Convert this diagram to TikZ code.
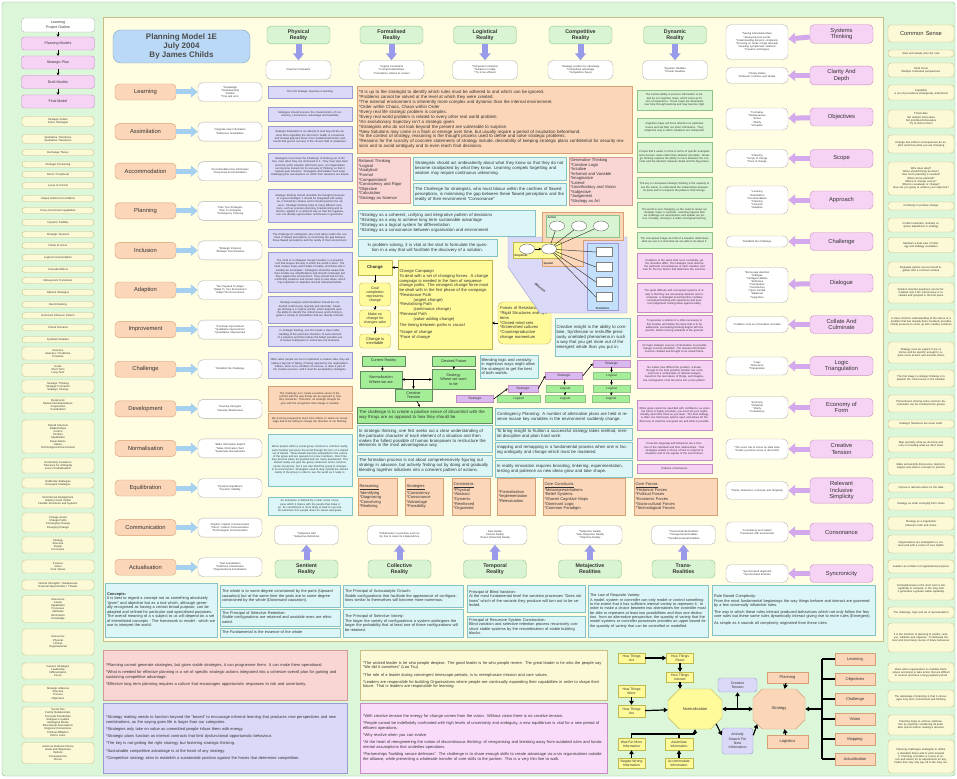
\documentclass[tikz,border=0pt]{standalone}
\usepackage{fontspec}
\setmainfont{Liberation Sans}
\usetikzlibrary{arrows.meta,positioning,shapes.misc,shapes.geometric}

\definecolor{bggreen}{HTML}{DCF6DA}
\definecolor{bgyellow}{HTML}{FFFDE2}
\definecolor{paleyel}{HTML}{FCFAD6}
\definecolor{paleline}{HTML}{C8BE86}
\definecolor{orangefill}{HTML}{FBD6B8}
\definecolor{orangeline}{HTML}{D8A075}
\definecolor{pinkfill}{HTML}{F6D2F4}
\definecolor{pinkline}{HTML}{C58BC5}
\definecolor{greenfill}{HTML}{D9F4D2}
\definecolor{greenline}{HTML}{8CC48A}
\definecolor{lavfill}{HTML}{DADAF8}
\definecolor{lavline}{HTML}{9A9AD4}
\definecolor{cyanfill}{HTML}{DCF6F8}
\definecolor{cyanline}{HTML}{86C2C8}
\definecolor{rosefill}{HTML}{F9D5D3}
\definecolor{roseline}{HTML}{D59A98}
\definecolor{yelfill}{HTML}{FFFA9A}
\definecolor{yelline}{HTML}{C2B850}
\definecolor{brightgreen}{HTML}{A4EE98}
\definecolor{purplefill}{HTML}{D9BAF0}
\definecolor{titlefill}{HTML}{BAD9F6}
\definecolor{titleline}{HTML}{7CA4CA}
\definecolor{arrowblue}{HTML}{A6D0F0}
\definecolor{arrowlav}{HTML}{9A9AEA}
\definecolor{arrowpink}{HTML}{D3A8EC}
\definecolor{magfill}{HTML}{FADCFA}
\definecolor{predfill}{HTML}{C2E0FB}
\definecolor{inktext}{HTML}{333333}

\newcommand\bul{*}

\tikzset{
  every node/.append style={text=inktext},
  flowbox/.style={draw=pinkline, fill=pinkfill, rounded corners=3pt, minimum width=73pt, minimum height=13pt, align=center, inner sep=0.5pt, font=\fontsize{3.6}{4.2}\selectfont},
  listbox/.style={draw=paleline, fill=paleyel, rounded corners=3pt, minimum width=72pt, text width=69pt, align=center, inner sep=0.6pt, font=\fontsize{2.7}{3.2}\selectfont},
  actbox/.style={draw=orangeline, fill=orangefill, rounded corners=4pt, minimum width=61pt, minimum height=16pt, font=\fontsize{5.8}{6.6}\selectfont},
  qualbox/.style={draw=pinkline, fill=pinkfill, rounded corners=4pt, minimum width=63pt, minimum height=18pt, align=center, font=\fontsize{5.8}{6.6}\selectfont},
  realbox/.style={draw=greenline, fill=greenfill, rounded corners=4pt, minimum width=63pt, minimum height=17pt, align=center, font=\fontsize{5.3}{6.1}\selectfont\bfseries},
  descbox/.style={draw=black!30, fill=white, rounded corners=5pt, minimum width=64pt, minimum height=19pt, text width=60pt, align=center, inner sep=1pt, font=\fontsize{2.6}{3.1}\selectfont},
  notebox/.style={draw, inner sep=1.5pt, align=left, font=\fontsize{2.7}{3.2}\selectfont},
  lavnote/.style={notebox, draw=lavline, fill=lavfill, minimum width=84pt, text width=80pt, align=center},
  orgnote/.style={notebox, draw=orangeline, fill=orangefill, minimum width=84pt, text width=80pt, align=center},
  cyannote/.style={notebox, draw=cyanline, fill=cyanfill, minimum width=84pt, text width=80pt, align=center},
  grnnote/.style={notebox, draw=greenline, fill=greenfill, minimum width=75pt, text width=71pt, align=center},
  pnknote/.style={notebox, draw=pinkline, fill=pinkfill, minimum width=75pt, text width=71pt, align=center},
  textnote/.style={notebox, font=\fontsize{4.3}{4.9}\selectfont},
  basenote/.style={notebox, draw=cyanline, fill=cyanfill, font=\fontsize{3.9}{4.5}\selectfont},
  panel/.style={notebox, font=\fontsize{4}{4.7}\selectfont, inner sep=3pt},
  chgbox/.style={draw=yelline, fill=yelfill, rounded corners=3pt, minimum width=31pt, align=center, inner sep=0.5pt, font=\fontsize{3.6}{4.2}\selectfont},
  gflow/.style={draw=greenline!70!black, fill=brightgreen, minimum width=43pt, align=center, inner sep=0.5pt, font=\fontsize{3.8}{4.3}\selectfont},
  stratbox/.style={draw=pinkline, fill=purplefill, minimum width=37pt, minimum height=7pt, inner sep=0pt, font=\fontsize{3.3}{3.6}\selectfont},
  logbox/.style={draw=greenline, fill=brightgreen, minimum width=37pt, minimum height=7pt, inner sep=0pt, font=\fontsize{3.3}{3.6}\selectfont},
  hbox/.style={draw=yelline, fill=yelfill, minimum width=27pt, align=center, inner sep=0.5pt, font=\fontsize{3.4}{3.9}\selectfont},
  pchbox/.style={draw=orangeline, fill=orangefill, minimum width=41pt, minimum height=12pt, font=\fontsize{4}{4.6}\selectfont},
  octbox/.style={chamfered rectangle, chamfered rectangle xsep=10pt, chamfered rectangle ysep=10pt, minimum width=54pt, minimum height=40pt, inner sep=0pt, font=\fontsize{4}{4.6}\selectfont},
  blockarr/.style={line width=5pt, draw=#1, -{Triangle[width=11pt,length=7pt]}},
  flowarr/.style={line width=1.2pt, -{Triangle[width=4.5pt,length=4pt]}},
  flowline/.style={line width=1.2pt},
  thinarr/.style={line width=0.6pt, -{Stealth[width=2.6pt,length=2.6pt]}},
}

\begin{document}
\begin{tikzpicture}[x=1pt,y=-1pt]
\useasboundingbox (0,0) rectangle (957,778);
\fill[white] (0,0) rectangle (957,778);
\draw[greenline, fill=bggreen, rounded corners=3pt] (2,2) rectangle (955,776);
\draw[paleline, fill=bgyellow] (103,17) rectangle (883,641);

% outline of the model
\node[flowbox, draw=black!30, fill=white, minimum height=14pt] (outline) at (58,25) {Learning\\Project Outline};
\node[flowbox] (plmodels) at (58,43.5) {Planning Models};
\node[flowbox] (stplan) at (58,62.5) {Strategic Plan};
\node[flowbox] (drmodels) at (58,82) {Draft Models};
\node[flowbox] (fnmodel) at (58,101.5) {Final Model};
\draw[thinarr, line width=1pt] (outline) -- (plmodels);
\draw[thinarr, line width=1pt] (plmodels) -- (stplan);
\draw[thinarr, line width=1pt] (stplan) -- (drmodels);
\draw[thinarr, line width=1pt] (drmodels) -- (fnmodel);

% left list
\foreach \y/\h/\txt [count=\k] in {
  121.5/10/{Strategic Assets\\Active Strategies},
  139/9/{Qualitative Transitions\\Qualitative Transitions},
  152.5/6/{Exchange Theory},
  164.5/6/{Strategic Positioning},
  174.5/6/{Direct / Peripheral},
  185.5/6/{Locus of Control},
  198.5/6/{Unique Historical Conditions},
  210.5/6/{Cross Functional Capabilities},
  222.5/6/{Dynamic Stability},
  234.5/6/{Strategic Tensions},
  245.5/6/{Fields of Vision},
  257.5/6/{Logical Incrementalism},
  269.5/6/{Cascade Effects},
  280.5/6/{Metasystem Transitions},
  292.5/6/{Optimal Strategies},
  304.5/6/{Benchmarking},
  315.5/6/{Dominant Influence Pattern},
  327.5/6/{Critical Domains},
  339.5/6/{Symbolic Realities},
  353.5/13/{Reactive\\Reactive / Predictive\\Proactive},
  370/13/{Goals\\Short Term\\Long Term},
  386.5/13/{Strategic Thinking\\Strategic Formation\\Strategic Change},
  405/16/{Reciprocity\\Mutual Interdependence\\Cooperation\\Coordination},
  436.5/33/{Overall Structure\\Relationships\\Control\\Position\\Capabilities\\Expectations\\Values\\Technological Environments},
  465.5/15/{Uncertainty Avoidance\\Tolerance for Ambiguity\\Level of Individualism},
  483/10/{Deliberate Strategies\\Emergent Strategies},
  500.5/15/{Red Interval Realignment\\Industry Good Visible\\Flexible Structures and Systems},
  522.5/19/{Change Arena\\Change Paths\\Converging Change\\Diverging Change},
  545/16/{Strategy\\Structure\\People\\Processes},
  566.5/13/{Purpose\\Vision\\Core Values},
  585/10/{Internal Strengths / Weaknesses\\External Opportunities / Threats},
  609/27/{Resources\\Assets\\Capabilities\\Processes\\Attributes\\Information\\Knowledge},
  642/26/{Resources\\Physical\\Human\\Organisational},
  671/16/{Generic Strategies\\Leadership\\Differentiation\\Focus},
  693.5/17/{Strategic Alliances\\Structure\\Process\\Objectives},
  722.5/31/{Social Ties\\Family Relationships\\Personal Friendships\\Religious Loyalties\\Ideological Bonds\\Educational Associations\\Regional Connections\\Political Affiliation\\Ethnic Links},
  753/21/{Action as Rational Choice\\Goals and Objectives\\Options\\Consequences\\Choice}}
  {\node[listbox, minimum height=\h pt] (lst\k) at (58,\y) {\txt};}

% title
\node[draw=titleline, fill=titlefill, rounded corners=8pt, minimum width=137pt, minimum height=33pt, align=center, font=\fontsize{8}{9.2}\selectfont\bfseries, text=black!70] (title) at (181.5,46.5) {Planning Model 1E\\July 2004\\By James Childs};

% stages of the model
\foreach \lab/\desc [count=\i from 0] in {
  Learning/{\bul Knowledge\\\bul Understanding\\\bul Intuition\\\bul Trial and error},
  Assimilation/{\bul Integrate New Information\\\bul Reference Assimilation},
  Accommodation/{\bul Accommodate New Information\\\bul Keep Data Accommodation},
  Planning/{\bul Plan Your Strategies\\\bul Plan To Anticipate\\\bul Contingency Planning},
  Inclusion/{\bul Strategic Inclusion\\\bul Strategic Discrimination},
  Adaption/{\bul Be Prepared To Adapt\\\bul Adapt To Your Environment\\\bul Adapt The Environment},
  Improvement/{\bul Continual Improvement\\\bul Qualitative Improvement\\\bul Quantitative Improvement},
  Challenge/{\bul Establish the Challenge},
  Development/{\bul Develop Strengths\\\bul Develop Weaknesses},
  Normalisation/{\bul Make Information Explicit\\\bul Make Information Tacit\\\bul Systematic Normalisation},
  Equilibration/{\bul Dynamic Equilibrium\\\bul Dynamic Stability},
  Communication/{\bul Explicit / Implicit Communication\\\bul Direct / Indirect Communication\\\bul Technological Communication},
  Actualisation/{\bul Self Actualisation\\\bul Fulfilment Actualisation\\\bul Organisational Actualisation}}
{
  \node[actbox] (stage\i) at (145.5,{92+39.6*\i}) {\lab};
  \node[descbox] (staged\i) at (230,{92+39.6*\i}) {\desc};
  \draw[blockarr=arrowblue] (stage\i) -- (staged\i);
}

% evaluation notes
\foreach \y/\h/\st/\txt [count=\k] in {
  92/12/lavnote/{The first strategic objective is learning},
  114/14/lavnote/{Strategies should possess the characteristics of consistency, consonance, advantage and feasibility},
  137/22/lavnote/{Strategic Evaluation is an attempt to look beyond the obvious facts regarding the short term health of a business and instead appraise those more fundamental factors and trends that govern success in the chosen field of endeavour.},
  167/28/lavnote/{Strategists must meet the Challenge of thinking out of the box, even when they are immersed in it. They must step back and look at the situation with fresh eyes. An Organisation can become locked into its own way of thinking, so that it repeats past solutions. Strategists and leaders must keep challenging the assumptions on which their decisions are based.},
  205.5/33/lavnote/{Strategic thinking should resemble the thought processes of a good strategist; it should be integrated with analysis, it should be creative and it should question the obvious. Strategic thinking looks at many different solutions, such as scenario planning, brainstorming and reflection, applied in a coherent way so that the organisation can identify opportunities and threats in good time.},
  238/18/lavnote/{The challenge for strategists, who must labour within the confines of flawed perceptions, is minimising the gap between these flawed perceptions and the reality of their environment.},
  272/40/lavnote/{The mind of a strategist, though invisible, is a powerful tool that shapes the way in which the world is seen. The mind creates maps and models of reality, and these will inevitably be incomplete. Strategists should be aware that their models are simplifications and should continually test them against the environment. They should look for disconfirming evidence and remain open to new ideas, which may lead them to abandon old and cherished beliefs.},
  309.5/27/lavnote/{Strategic analysis and formulation should be conducted continuously, logically and rationally. Strategic thinking is a "logical activity" which depends upon the ability to identify the critical issues and to bring together a variety of possibilities that are directly relevant.},
  336/20/lavnote/{In strategic thinking, one first seeks a clear understanding of the particular character of each element of a situation and then makes the fullest possible use of human brainpower to restructure the elements.},
  365/26/lavnote/{Often when people set out to implement a creative idea, they are taking a big risk of failing, of being rejected by the organisation. Failure, while not a condition of success, is often a part of the creative process, and it must be accepted by strategists.},
  398.5/25/orgnote/{The challenge is to create a positive sense of discomfort with the way things are as opposed to how they should be. Therefore, all strategic thought begins with the recognition that change is needed.},
  420.5/15/orgnote/{We must be prepared to learn from others, to share our knowledge and to be willing to change the direction of our thinking.},
  460/52/cyannote/{When people within a social group construct a common reality, each member perceives the world through the lens of a shared set of beliefs. These beliefs become embedded in the culture of the group and are passed on to new members. Over time they become taken for granted and are rarely questioned. This shared reality can give the group coherence and a common sense of purpose, but it can also blind the group to changes in its environment. Strategists need to step outside the shared reality of the group in order to see the world as it really is.},
  506/18/cyannote/{An enterprise is defined by a clear sense of purpose which it shares with the people that make it up. Its commitment is more likely to lead to successful outcomes if its people share its values and goals.}}
  {\node[\st, minimum height=\h pt] (eval\k) at (310,\y) {\txt};}

% realities
\foreach \lab/\x/\desc [count=\i] in {
  Physical/298.5/{Physical Constraints},
  Formalised/391.5/{\bul Logical Constraints\\\bul Formal Relationships\\\bul Formalisms relative to context},
  Logistical/485/{\bul Temporal Constraints\\\bul Relative to reality\\\bul Try to be efficient},
  Competitive/580.5/{\bul Strategic position for advantage\\\bul Competitive advantage\\\bul Competition theory},
  Dynamic/675/{\bul Dynamic Realities\\\bul Chaotic Realities}}
{
  \node[realbox] (top\i) at (\x,35) {\lab\\Reality};
  \node[descbox, minimum width=65pt] (topd\i) at (\x,70) {\desc};
  \draw[blockarr=arrowlav, line width=6pt] (top\i) -- (topd\i);
}
\foreach \lab/\x/\desc [count=\i] in {
  {Sentient\\Reality}/306.5/{\bul Subjective Self\\\bul Subjective Definitions},
  {Collective\\Reality}/399.5/{\bul Collaboration is practical, each entity free to retain its independence},
  {Temporal\\Reality}/495/{Past Reality\\Present Reality\\\bul Future (Potential) Reality},
  {Metajective\\Realities}/590/{\bul Subjective Reality\\\bul Inter-Subjective Reality\\\bul Objective Reality},
  {Trans-\\Realities}/683.5/{\bul Transcendental Realities\\\bul Transpersonal Realities\\\bul Transdimensional Realities}}
{
  \node[realbox, minimum height=18pt] (bot\i) at (\x,569) {\lab};
  \node[descbox] (botd\i) at (\x,535) {\desc};
  \draw[blockarr=arrowlav, line width=6pt] (bot\i) -- (botd\i);
}

% qualities
\foreach \lab/\h/\dy/\desc [count=\i from 0] in {
  {Systems\\Thinking}/35/8/{\bul Seeing interrelationships\\\bul Seeing beyond events\\\bul Understanding dynamic complexity\\\bul Focusing on areas of high leverage\\\bul Avoiding symptomatic solutions\\\bul Dynamic archetypes},
  {Clarity And\\Depth}/16/0/{\bul Clearly Define\\\bul Relevant, Inclusive and simple},
  {Objectives}/22/2/{\bul Formative\\\bul Metaproactive\\\bul Active\\\bul Clarify\\\bul Actualize},
  {Scope}/18/0/{\bul Planning\\\bul Scope of change\\\bul Pace of change},
  {Approach}/28/0/{\bul Learning\\\bul Assimilation\\\bul Accommodation\\\bul Planning\\\bul Inclusion\\\bul Adaption},
  {Challenge}/11/0/{\bul Establish the Challenge},
  {Dialogue}/35/2/{\bul Encourage attention\\\bul Dialogue\\\bul Intelligent debate\\\bul Reflective\\\bul Participative\\\bul Constructive\\\bul Open minded\\\bul Balanced\\\bul Supportive},
  {Collate And\\Culminate}/16/0/{\bul Collation of all our information and data},
  {Logic\\Triangulation}/18/0/{\bul Logic\\\bul Relevance\\\bul Triangulation},
  {Economy of\\Form}/22/0/{\bul Economy\\\bul Simplicity\\\bul Clarity\\\bul Consistency},
  {Creative\\Tension}/20/0/{\bul The vision has to stress an ideal state\\\bul Create a positive sense of discomfort},
  {Relevant\\Inclusive\\Simplicity}/18/0/{\bul Clarity, Relevance, Inclusivity and Simplicity},
  {Consonance}/20/0/{\bul Consistency and realism\\\bul Consonant with environment},
  {Syncronicity}/18/0/{\bul Synchronised alignment\\\bul Synchronised direction}}
{
  \node[qualbox] (qual\i) at (841.5,{34+41.5*\i}) {\lab};
  \node[descbox, minimum width=62pt, minimum height=\h pt] (quald\i) at (757,{34+41.5*\i+\dy}) {\desc};
  \draw[blockarr=arrowpink] (qual\i) -- (quald\i);
}

% common sense
\node[listbox, minimum width=66pt, text width=62pt, minimum height=17pt, font=\fontsize{5.8}{6.6}\selectfont] (csense) at (921,33.5) {Common Sense};
\foreach \y/\h/\txt [count=\k] in {
  53.5/7/{Slow and steady wins the race},
  70/14/{Multi Focal\\Multiple contextual perspectives},
  92.5/15/{Capability\\A set of procedures strategically understood},
  119/18/{Timescales\\Set realistic timescales\\Set prioritised timescales\\Try to stick to them},
  144/18/{Change has indirect consequences be explicit and know what you are changing},
  178.5/33/{Who does what?\\When should things be done?\\How much planning is needed?\\What can be planned?\\Where to change course?\\What to reevaluate or change?\\How are you going to achieve your objective?},
  206/8/{Continuity in positive change},
  225/14/{Conflict resolution normally requires adjustment in strategy},
  245/15/{Maintain a dual view of strategy and strategy evaluation},
  269.5/15/{Disparate parties can be bound together with a common venture},
  293/20/{Solution oriented questions can be formulated only if the critical issue is localised and grouped in the first place},
  321.5/23/{A clear common understanding of the nature of a problem that has already been localised, provides critical pressure to come up with creative solutions},
  352.5/21/{Strategy must be explicit to be effective and be specific enough to require some actions and exclude others},
  378.5/17/{The first stage in strategic thinking is to pinpoint the critical issue in the situation},
  403.5/17/{Phenomenon sharing some common denominator can be combined into groups},
  424/8/{Strategic Situations are never static},
  444.5/15/{Map precisely what we do know and carry on treating what we don't know},
  466.5/17/{Make and amplify discoveries, build prototypes and reduce concepts to practice},
  487.5/9/{Impose a rational outline on the data},
  504/12/{Strategy as order emerging from chaos},
  523.5/13/{Strategy as a negotiation between order and chaos},
  544/18/{Organisations are entangled in a cultural web with a center of core beliefs},
  566.5/13/{Leaders as architect of organisational purpose},
  589/22/{Competitiveness in the short term is the capability to compete, in the long term it generates a greater viable capability},
  612.5/11/{The challenge, logic and art of representation},
  637.5/29/{It is the intention of planning to predict, analyse, calibrate and organise. To delineate the best and most likely course of future behaviour},
  672.5/19/{Plans allow organisations to mobilise themselves and plans to take action that are difficult to reverse and have a long payback period},
  698.5/17/{The advantage of planning is that it encourages long term commitment and thinking},
  725/20/{Planning helps to achieve optimisation by explicitly considering all available options before making a decision},
  756.5/33/{Planning challenges strategists to define a desirable future and to work towards it. Planning considers a course of action and allows for its adjustments for any trades that may only pay off in the long run.}}
  {\node[listbox, minimum width=66pt, text width=62pt, minimum height=\h pt] (cs\k) at (921,\y) {\txt};}

% perception notes
\foreach \y/\h/\st/\txt [count=\k] in {
  100/20/grnnote/{The human ability to process information is limited by our cognitive maps, which serve as filters of experience. These maps are developed over time through learning and may become rigid.},
  127.5/19/grnnote/{Cognitive maps will focus attention on particular issues and will filter out other information. They shape the way in which situations are interpreted.},
  157/30/grnnote/{People find it easier to think in terms of specific examples and concrete cases rather than abstract principles. Strategic thinking requires the ability to move between the concrete and the abstract, between detail and the big picture.},
  187.5/21/grnnote/{The key to conceptual strategic thinking is the capacity to see the whole, to understand the relationships between its parts and to recognise the patterns that emerge.},
  214.5/25/grnnote/{The world is ever changing, so the need to renew our strategic maps is constant. Learning requires that we challenge our assumptions and update our picture of reality, moving to a wider conceptual framing.},
  240/16/grnnote/{The conceptual image we hold of a situation determines what we see in it and what we are able to do about it.},
  265.5/25/pnknote/{Problems of the same kind recur constantly, yet the remedies differ. The strategist must observe the particular circumstances of each situation and look for the key factors that determine the outcome.},
  297.5/29/pnknote/{The great difficulty with conceptual systems of reality is that they are necessarily abstract and incomplete. A strategist must therefore combine conceptual thinking with experience and practical judgement, testing ideas against reality.},
  326/22/pnknote/{To generate a solution it is often necessary to first localise and define the issue that is to be addressed. Generating thinking begins with the specific, before moving outwards to the general.},
  348.5/17/pnknote/{All major strategic sources of information on possible change must be identified. The relevant information must be collated and brought to an actual frame.},
  374/28/pnknote/{No matter how difficult the problem, a breakthrough to the best possible solution can come only from a combination of rational analysis, based on the real nature of things, and imaginative reintegration of all the items into a new pattern.},
  415/30/pnknote/{When goals cannot be specified with confidence, as when the future is highly uncertain, you must set your sights broadly and refine them as you learn. The best strategy is often one that keeps options open and allows for the discovery of what the real goals are and what is possible.},
  449/22/pnknote/{Proactive language and behaviour are a function of the individual and their relationships. Their strategies enable a choice of how to respond to situations and to the signals of the environment.},
  468.5/9/pnknote/{Patterns of behaviour}}
  {\node[\st, minimum height=\h pt] (perc\k) at (674.5,\y) {\txt};}

% middle column
\node[textnote, draw=orangeline, fill=orangefill, minimum width=275pt, minimum height=67pt, text width=271pt, font=\fontsize{4.4}{4.95}\selectfont] (rules) at (494.5,119.5) {\bul It is up to the strategist to identify which rules must be adhered to and which can be ignored.\\\bul Problems cannot be solved at the level at which they were created.\\\bul The external environment is inherently more complex and dynamic than the internal environment.\\\bul Order within Chaos, Chaos within Order\\\bul Every real life strategic problem is complex.\\\bul Every real world problem is related to every other real world problem.\\\bul An evolutionary trajectory isn't a strategic given.\\\bul Strategists who do not look beyond the present are vulnerable to surprise.\\\bul New Solutions may come in a flash or emerge over time, but usually require a period of incubation beforehand.\\\bul In the context of strategy, reasoning is the thought process used to define and solve strategic problems.\\\bul Reasons for the scarcity of concrete statements of strategy include, desirability of keeping strategic plans confidential for security reasons and to avoid ambiguity and to even reach final decisions.};
\node[textnote, draw=roseline, fill=rosefill, minimum width=53pt, minimum height=46pt, text width=50pt, font=\fontsize{4.1}{4.55}\selectfont] (rational) at (383.5,180) {Rational Thinking\\\bul Logical\\\bul Analytical\\\bul Formal\\\bul Computational\\\bul Consistency and Rigor\\\bul Objective\\\bul Calculation\\\bul Strategy as Science};
\node[textnote, draw=cyanline, fill=cyanfill, minimum width=153pt, minimum height=23pt, text width=149pt] (ambival) at (489.5,168.5) {Strategists should act ambivalently about what they know so that they do not become straitjacked by what they know. Learning compels forgetting and wisdom may require continuous unlearning.};
\node[textnote, draw=cyanline, fill=cyanfill, minimum width=153pt, minimum height=22pt, text width=149pt] (flawed) at (489.5,194) {The Challenge for strategists, who must labour within the confines of flawed perceptions, is minimising the gap between these flawed perceptions and the reality of their environment "Consonance"};
\node[textnote, draw=roseline, fill=rosefill, minimum width=63pt, minimum height=48pt, text width=60pt, font=\fontsize{4.1}{4.55}\selectfont] (generative) at (600.5,181) {Generative Thinking\\\bul Creative Logic\\\bul Intuitive\\\bul Informal and Variable\\\bul Imaginative\\\bul Lateral\\\bul Unorthodoxy and Vision\\\bul Subjective\\\bul Judgement\\\bul Strategy as Art};
\node[textnote, draw=cyanline, fill=cyanfill, minimum width=177pt, minimum height=26pt, text width=173pt] (stratas) at (446.5,223) {\bul Strategy as a coherent, unifying and integrative pattern of decisions\\\bul Strategy as a way to achieve long term sustainable advantage\\\bul Strategy as a logical system for differentiation\\\bul Strategy as a consonance between organisation and environment};
\node[textnote, draw=cyanline, fill=cyanfill, minimum width=139pt, minimum height=17pt, text width=135pt, align=center] (probsolve) at (427.5,247.5) {In problem solving, it is vital at the start to formulate the question in a way that will facilitate the discovery of a solution.};

% change
\node[chgbox, rounded corners=0pt, minimum width=34pt, minimum height=15pt, font=\fontsize{4.3}{5}\selectfont\bfseries] (change) at (375,267.5) {Change};
\node[chgbox, minimum height=23pt] (goalc) at (375,294.5) {Goal\\completion\\represents\\change};
\node[chgbox, minimum height=17pt] (nochange) at (375,318.5) {Make no\\change for\\changes sake};
\node[chgbox, minimum height=14pt, font=\fontsize{4}{4.6}\selectfont] (inevit) at (375,341) {Change is\\inevitable};
\node[textnote, draw=yelline, fill=yelfill, minimum width=94pt, minimum height=89pt, text width=91pt, font=\fontsize{4.1}{4.75}\selectfont] (campaign) at (445,304.5) {Change Campaign\\To deal with a set of changing forces. A change campaign is needed in the form of sequence change paths. The strongest change force must be dealt with in the first phase of the campaign.\\\bul Resistance Path\\\hspace*{14pt}(urgent change)\\\bul Revitalising Path\\\hspace*{14pt}(continuous change)\\\bul Renewal Path\\\hspace*{14pt}(value adding change)\\[2pt]The timing between paths is crucial\\[2pt]\bul Scope of change\\\bul Pace of change};
\node[textnote, draw=yelline, fill=yelfill, rounded corners=5pt, minimum width=53pt, minimum height=42pt, text width=49pt, font=\fontsize{4.1}{4.7}\selectfont] (forces) at (524.5,323) {Forces of Resistance\\\bul Rigid Structures and systems\\\bul Closed mind sets\\\bul Entrenched cultures\\\bul Counterproductive change momentum};
\node[textnote, draw=cyanline, fill=cyanfill, minimum width=75pt, minimum height=38pt, text width=72pt, font=\fontsize{4.3}{5}\selectfont] (insight) at (592.5,337) {Creative insight is the ability to combine, Synthesise or reshuffle previously unrelated phenomena in such a way that you get more out of the emergent whole than you put in.};
\draw[thinarr] (change.east -| campaign.west) -- (change.east);
\draw[thinarr] (forces.west) -- (forces.west -| campaign.east);
\draw[thinarr] (change) -- (goalc);
\draw[thinarr] (goalc) -- (nochange);
\draw[thinarr] (nochange) -- (inevit);

% strategic space
\draw[lavline, fill=lavfill] (508,237) -- (627,237) -- (627,313) -- (540,313) -- (508,267) -- cycle;
\draw[orangeline, fill=orangefill] (542,212) -- (623,212) -- (623,240) -- (583,240) -- (583,266) -- (542,266) -- cycle;
\draw[greenline, fill=greenfill] (546,215) rectangle (619,237);
\draw[yelline, fill=yelfill] (513,242) rectangle (561,258);
\draw[lavline, fill=predfill] (587,243) rectangle (618,310);
\node[font=\fontsize{2.8}{3}\selectfont\bfseries, anchor=north west, inner sep=0.5pt] (lbaction) at (547,216) {Action};
\node[font=\fontsize{2.8}{3}\selectfont\bfseries, anchor=south west, inner sep=0.5pt] (lbempir) at (514,258) {Empirical};
\node[font=\fontsize{2.8}{3}\selectfont\bfseries, anchor=south west, inner sep=0.5pt] (lbspatial) at (543,266) {Spatial};
\node[font=\fontsize{2.8}{3}\selectfont\bfseries, anchor=south, inner sep=0.5pt] (lbpred) at (602.5,310) {Predictive};
\node[font=\fontsize{3}{3.2}\selectfont\bfseries, rotate=-42, inner sep=0.5pt] (lbobj) at (540,288) {Objective};
\foreach \x [count=\k] in {557,579,601}
  {\node[ellipse, draw=black!60, fill=white, minimum width=15pt, minimum height=10pt, inner sep=0pt] (aim\k) at (\x,226) {};}
\node[ellipse, draw=black!60, fill=white, minimum width=15pt, minimum height=10pt, inner sep=0pt] (emp1) at (527,249) {};
\node[ellipse, draw=black!60, fill=white, minimum width=15pt, minimum height=10pt, inner sep=0pt] (emp2) at (549,249) {};
\foreach \y [count=\k] in {252,267,282,297}
  {\node[draw=black!50, fill=white, minimum width=16pt, minimum height=9pt, inner sep=0pt] (pred\k) at (604,\y) {};}
\draw[thinarr] (emp1) -- (emp2);
\foreach \k in {1,2,3} {\draw[black!75, line width=0.5pt] (emp2) -- (aim\k);}
\foreach \k in {1,2,3,4} {\draw[black!75, line width=0.5pt] (emp2) -- (pred\k.west);}

% reality and future
\node[gflow, minimum height=10pt] (current) at (383.5,361) {Current Reality};
\node[gflow, minimum height=10pt] (desired) at (454,361) {Desired Future};
\node[gflow, minimum width=42pt, minimum height=17pt] (normwhere) at (381,379.5) {Normalisation\\Where we are};
\node[gflow, minimum height=20pt] (stratwhere) at (453.5,379.5) {Strategy\\Where we want\\to be};
\node[gflow, minimum width=37pt, minimum height=12pt] (ctension) at (413.5,395) {Creative\\Tension};
\node[textnote, draw=greenline!70!black, fill=brightgreen, minimum width=135pt, minimum height=16pt, text width=131pt] (discomfort) at (424.5,415) {The challenge is to create a positive sense of discomfort with the way things are as opposed to how they should be.};
\coordinate (tjoin) at (413.5,379.5);
\draw[thinarr] (current) -- (normwhere);
\draw[thinarr] (desired) -- (stratwhere);
\draw[thinarr, {Stealth[width=2.6pt,length=2.6pt]}-{Stealth[width=2.6pt,length=2.6pt]}] (normwhere.east) -- (stratwhere.west);
\draw[thinarr] (tjoin) -- (ctension);
\draw[thinarr] (ctension) -- (discomfort);

% blending
\node[textnote, draw=cyanline, fill=cyanfill, minimum width=58pt, minimum height=23pt, text width=55pt, font=\fontsize{4}{4.6}\selectfont] (blend) at (509,366.5) {Blending logic and creativity in ingenious ways might allow the strategist to get the best of both worlds.};
\node[stratbox] (strat1) at (611.5,363.5) {Strategic};
\node[stratbox] (strat2) at (564,376) {Strategic};
\node[logbox] (log2a) at (611.5,376) {Logical};
\node[stratbox, minimum width=30pt] (strat3) at (523,388.5) {Strategic};
\node[logbox] (log3a) at (565,388.5) {Logical};
\node[logbox] (log3b) at (611.5,388.5) {Logical};
\node[stratbox] (strat4) at (475,399) {Strategic};
\node[logbox, minimum width=43pt] (log4a) at (518.5,399) {Logical};
\node[logbox, minimum width=40pt] (log4b) at (565,399) {Logical};
\node[logbox] (log4c) at (611,399) {Logical};
\draw[thinarr] (strat1) -- (log2a);
\draw[thinarr] (log2a) -- (log3b);
\draw[thinarr] (log3b) -- (log4c);
\draw[thinarr] (strat2) -- (log3a);
\draw[thinarr] (log3a) -- (log4b);
\draw[thinarr] (strat3) -- (log4a);
\draw[thinarr] (strat4.east) -- (strat3.west);
\draw[thinarr] (strat3.east) -- (strat2.west);
\draw[thinarr] (strat2.east) -- (strat1.west);

% thinking notes
\node[textnote, draw=cyanline, fill=cyanfill, minimum width=135pt, minimum height=27pt, text width=131pt] (firstseek) at (424.5,438.5) {In strategic thinking, one first seeks out a clear understanding of the particular character of each element of a situation and then makes the fullest possible of human brainpower to restructure the elements in the most advantageous way.};
\node[textnote, draw=cyanline, fill=cyanfill, minimum width=135pt, minimum height=21pt, text width=131pt] (formation) at (424.5,465.5) {The formation process is not about comprehensively figuring out strategy in advance, but actively finding out by doing and gradually blending together initiatives into a coherent pattern of actions.};
\node[textnote, draw=cyanline, fill=cyanfill, minimum width=137pt, minimum height=17pt, text width=133pt] (contingency) at (563.5,416.5) {Contingency Planning: A number of alternative plans are held in reserve incase key variables in the environment suddenly change.};
\node[textnote, draw=cyanline, fill=cyanfill, minimum width=137pt, minimum height=12pt, text width=133pt] (fruition) at (563.5,434) {To bring insight to fruition a successful strategy takes method, mental discipline and plain hard work.};
\node[textnote, draw=cyanline, fill=cyanfill, minimum width=137pt, minimum height=16pt, text width=133pt] (mapping) at (563.5,450) {mapping and remapping is a fundamental process when one is facing ambiguity and change which must be mastered.};
\node[textnote, draw=cyanline, fill=cyanfill, minimum width=137pt, minimum height=17pt, text width=133pt] (innovation) at (563.5,468.5) {In reality innovation requires brooding, tinkering, experimentation, testing and patience as new ideas grow and take shape.};

% constructs
\node[textnote, draw=orangeline, fill=orangefill, minimum width=39pt, minimum height=37pt, text width=36pt, font=\fontsize{4}{4.6}\selectfont] (reasoning) at (377.5,496.5) {\underline{Reasoning}\\\bul Identifying\\\bul Diagnosing\\\bul Conceiving\\\bul Realising};
\node[textnote, draw=orangeline, fill=orangefill, minimum width=38pt, minimum height=37pt, text width=35pt, font=\fontsize{4}{4.6}\selectfont] (strategies) at (424,496.5) {\underline{Strategies}\\\bul Consistency\\\bul Consonance\\\bul Advantage\\\bul Feasibility};
\node[textnote, draw=orangeline, fill=orangefill, minimum width=38pt, minimum height=37pt, text width=35pt, font=\fontsize{4}{4.6}\selectfont] (constraints) at (471,496.5) {\underline{Constraints}\\\bul Physical\\\bul Abstract\\\bul Dynamic\\\bul Reinforced\\\bul Organised};
\node[textnote, draw=orangeline, fill=orangefill, minimum width=38pt, minimum height=37pt, text width=35pt, font=\fontsize{4}{4.6}\selectfont] (formalise) at (516,496.5) {\bul Formalisation\\\bul Implementation\\\bul Reevaluation};
\node[textnote, draw=orangeline, fill=orangefill, minimum width=82pt, minimum height=37pt, text width=79pt, font=\fontsize{4}{4.6}\selectfont] (constructs) at (584,496.5) {\underline{Core Constructs}\\\bul Metarepresentations\\\bul Belief Systems\\\bul Shared Cognitive Maps\\\bul Dominant Logic\\\bul Common Paradigm};
\node[textnote, draw=orangeline, fill=orangefill, minimum width=83pt, minimum height=37pt, text width=80pt, font=\fontsize{4}{4.6}\selectfont] (coreforces) at (675.5,496.5) {\underline{Core Forces}\\\bul Historical Forces\\\bul Political Forces\\\bul Economic Forces\\\bul Socio-cultural Forces\\\bul Technological Forces};

% principles
\node[basenote, minimum width=112pt, minimum height=54pt, text width=108pt] (concepts) at (161,610) {\textbf{Concepts:}\\It is best to regard a concept not as something absolutely "given" and objective but as a tool which, although generally recognised as having a certain broad purpose, can be adapted and refined for particular and specialised purposes. The overall meaning of a s subject to us will depend on a set of interrelated concepts - The framework or model - which we use to interpret the world.};
\node[basenote, minimum width=120pt, minimum height=22pt, text width=116pt] (whole) at (280,596) {The whole is to some degree constrained by the parts (Upward causation) but at the same time the parts are to some degree constrained by the whole (Downward causation).};
\node[basenote, minimum width=120pt, minimum height=17pt, text width=116pt] (retention) at (280,617.5) {The Principal of Selective Retention:\\Stable configurations are retained and unstable ones are eliminated.};
\node[basenote, minimum width=120pt, minimum height=9pt, text width=116pt] (essence) at (280,632.5) {The Fundamental is the essence of the whole};
\node[basenote, minimum width=120pt, minimum height=22pt, text width=116pt] (autocat) at (403,596) {The Principal of Autocatalytic Growth:\\Stable configurations that facilitate the appearance of configurations similar to themselves will become more numerous.};
\node[basenote, minimum width=120pt, minimum height=28pt, text width=116pt] (variety) at (403,623) {The Principal of Selective Variety:\\The larger the variety of configurations a system undergoes the larger the probability that at least one of these configurations will be retained.};
\node[basenote, minimum width=118pt, minimum height=27pt, text width=114pt] (blind) at (526,598.5) {Principal of Blind Variation:\\At the most fundamental level the variation processes "Does not know" which of the variants they produce will turn out to be selected.};
\node[basenote, minimum width=118pt, minimum height=21pt, text width=114pt] (recursive) at (526,626.5) {Principal of Recursive System Construction:\\Blind variation and selective retention process recursively construct stable systems by the recombination of stable building blocks.};
\node[basenote, minimum width=120pt, minimum height=52pt, text width=116pt, font=\fontsize{3.8}{4.35}\selectfont] (requisite) at (648,611) {The Law of Requisite Variety:\\A model, system or controller can only model or control something to the extent that it has sufficient internal variety to represent it. In order to make a choice between two alternatives the controller must be able to represent at least two possibilities and thus one distinction. from an alternative perspective, the quantity of variety that the model systems or controller possesses provides an upper bound for the quantity of variety that can be controlled or modelled.};
\node[basenote, minimum width=163pt, minimum height=50pt, text width=159pt] (rulebased) at (793.5,610) {Rule Based Complexity:\\From the most fundamental beginnings the way things behave and interact are governed by a few universally influential rules.\\[2pt]The way in which these rules interact produced behaviours which not only follow the few core rules but these same rules dynamically interact giving rise to more rules (Emergent).\\[2pt]As simple as it sounds all complexity originated from these rules.};

% planning and leadership
\node[panel, draw=roseline, fill=rosefill, minimum width=244pt, minimum height=50pt, text width=238pt] (plannote) at (225,675) {\bul Planning cannot generate strategies, but given viable strategies, it can programme them. It can make them operational.\\[2.5pt]\bul What is needed for effective planning is a set of specific strategic actions integrated into a cohesive overall plan for gaining and sustaining competitive advantage.\\[2.5pt]\bul Effective long term planning requires a culture that encourages opportunistic responses to risk and uncertainty.};
\node[panel, draw=lavline, fill=lavfill, minimum width=244pt, minimum height=70pt, text width=238pt] (stratnote) at (225,738) {\bul Strategy making needs to function beyond the "boxed" to encourage informal learning that produces new perspectives and new combinations, as the saying goes life is larger than our categories.\\[2.5pt]\bul Strategies only take on value as committed people infuse them with energy.\\[2.5pt]\bul Strategic plans function as internal contracts that limit dysfunctional opportunistic behaviour.\\[2.5pt]\bul The key is not getting the right strategy, but fostering strategic thinking.\\[2.5pt]\bul Sustainable competitive advantage is at the heart of any strategy.\\[2.5pt]\bul Competitive strategy aims to establish a sustainable position against the forces that determine competition.};
\node[panel, draw=paleline, fill=paleyel, minimum width=247pt, minimum height=50pt, text width=241pt] (leadnote) at (483.5,675) {\bul The wicked leader is he who people despise. The good leader is he who people revere. The great leader is he who the people say "We did it ourselves" (Lao Tsu)\\[2.5pt]\bul The role of a leader during convergent timescape periods, is to reemphasize mission and core values.\\[2.5pt]\bul Leaders are responsible for building Organisations where people are continually expanding their capabilities in order to shape their future. That is leaders are responsible for learning.};
\node[panel, draw=pinkline, fill=magfill, minimum width=247pt, minimum height=70pt, text width=241pt] (tensnote) at (483.5,738) {\bul With creative tension the energy for change comes from the vision. Without vision there is no creative tension.\\[2.5pt]\bul People cannot be indefinitely confronted with high levels of uncertainty and ambiguity, a new equilibrium is vital for a new period of efficient operations.\\[2.5pt]\bul Why revolve when you can evolve.\\[2.5pt]\bul At the heart of reengineering the notion of discontinuous thinking- of reorganising and breaking away from outdated rules and fundamental assumptions that underlies operations.\\[2.5pt]\bul Partnerships "building secure defenses". The challenge is to share enough skills to create advantage vis-a-vis organisations outside the alliance, while preventing a wholesale transfer of core skills to the partner. This is a very thin line to walk.};

% normalisation and strategy
\node[hbox, minimum height=10pt] (act) at (631.5,658) {How Things\\Act};
\node[hbox, minimum height=10pt] (react) at (680,658) {How Things\\React};
\node[hbox, minimum height=10pt] (interact) at (680,677) {How Things\\Interact};
\node[hbox, minimum height=12pt] (were) at (631.5,691) {How Things\\Were};
\node[hbox, minimum height=12pt] (are) at (631.5,711) {How Things\\Are};
\node[hbox, minimum height=12pt] (waitinfo) at (631.5,744) {Wait For More\\Information};
\node[hbox, minimum width=28pt, minimum height=12pt] (assim) at (679,744) {Assimilate\\Information};
\node[hbox, minimum height=10pt] (negate) at (631.5,763) {Negate Wrong\\Information};
\node[hbox, minimum width=28pt, minimum height=10pt] (accom) at (679,763) {Accommodate\\Information};
\node[octbox, draw=yelline, fill=yelfill] (normal) at (695,709) {Normalisation};
\node[octbox, draw=orangeline, fill=orangefill, minimum width=52pt] (strategy) at (779,709) {Strategy};
\node[draw=lavline, fill=lavfill, rounded corners=3pt, minimum width=39pt, minimum height=14pt, align=center, inner sep=0.5pt, font=\fontsize{3.6}{4.2}\selectfont] (ctens) at (737.5,685) {Creative\\Tension};
\node[draw=lavline, fill=lavfill, rounded corners=3pt, minimum width=31pt, minimum height=26pt, align=center, inner sep=0.5pt, font=\fontsize{3.6}{4.2}\selectfont] (search) at (737.5,741) {Actively\\Search For\\New\\Information};
\node[pchbox, minimum height=11pt] (planning) at (787.5,677.5) {Planning};
\node[pchbox, minimum height=13pt] (logistics) at (787.5,741.5) {Logistics};
\foreach \lab [count=\i from 0] in {Learning,Objectives,Challenge,Vision,Mapping,Actualisation}
  {\node[pchbox, minimum width=40pt] (goal\i) at (855,{659+20*\i}) {\lab};}
\coordinate (njoin) at (695,734);
\coordinate (sjoin) at (737.5,709);
\coordinate (bjoin) at (822,709);
\draw[flowarr] (act) -- (react);
\draw[flowarr] (react) -- (interact);
\draw[flowarr] (interact) -- (interact |- normal.north);
\draw[flowarr] (were) -- (are);
\draw[flowarr] (are) -- (normal);
\draw[flowline] (waitinfo.north) |- (njoin);
\draw[flowline] (assim.north) |- (njoin);
\draw[flowarr] (njoin) -- (normal.south);
\draw[flowarr] (negate) -- (waitinfo);
\draw[flowarr] (accom) -- (assim);
\draw[flowarr, {Triangle[width=4.5pt,length=4pt]}-{Triangle[width=4.5pt,length=4pt]}] (normal.east) -- (strategy.west);
\draw[flowarr] (sjoin) -- (ctens);
\draw[flowarr] (normal.-35) -- (search.160);
\draw[flowarr] (search.20) -- (strategy.-145);
\draw[flowarr] (planning) -- (strategy);
\draw[flowarr] (logistics) -- (strategy);
\foreach \i in {0,...,5} {\draw[flowline] (goal\i.west) -- (goal\i.west -| bjoin);}
\draw[flowline] (goal0.west -| bjoin) -- (goal5.west -| bjoin);
\draw[flowarr] (bjoin) -- (strategy.east);
\end{tikzpicture}
\end{document}
